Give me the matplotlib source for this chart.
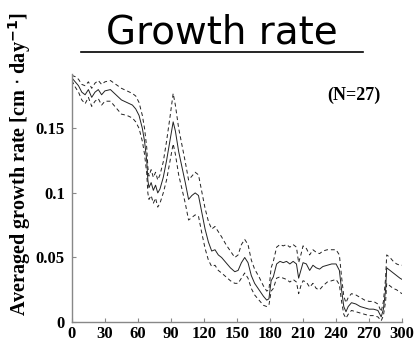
import matplotlib.pyplot as plt
from matplotlib.ticker import FuncFormatter

# Mean growth rate (solid) and the +/- bands (dashed)
dias = [0, 3, 6, 9, 12, 15, 18, 21, 24, 27, 30, 35, 40, 45, 50, 55, 58, 61, 64, 66,
        68, 69, 70, 72, 74, 76, 78, 80, 83, 86, 89, 92, 94, 97, 100, 103, 106, 109,
        112, 115, 118, 121, 124, 127, 130, 133, 136, 140, 144, 148, 151, 154, 157,
        160, 163, 166, 170, 174, 177, 179, 181, 183, 186, 189, 192, 195, 198, 201,
        204, 206, 208, 210, 213, 216, 219, 222, 225, 228, 232, 236, 240, 243, 245,
        247, 249, 251, 254, 258, 262, 266, 270, 274, 278, 281, 283, 285, 286, 289,
        292, 295, 298, 300]

media = [0.189, 0.186, 0.183, 0.178, 0.176, 0.180, 0.174, 0.178, 0.180, 0.176, 0.179,
         0.180, 0.176, 0.172, 0.170, 0.168, 0.165, 0.160, 0.150, 0.140, 0.125, 0.110,
         0.104, 0.108, 0.102, 0.106, 0.100, 0.103, 0.112, 0.125, 0.140, 0.155, 0.148,
         0.132, 0.120, 0.108, 0.095, 0.098, 0.100, 0.098, 0.085, 0.072, 0.062, 0.055,
         0.056, 0.052, 0.050, 0.046, 0.042, 0.039, 0.040, 0.046, 0.050, 0.046, 0.036,
         0.030, 0.025, 0.020, 0.017, 0.018, 0.032, 0.035, 0.045, 0.047, 0.046, 0.047,
         0.045, 0.047, 0.045, 0.034, 0.040, 0.046, 0.045, 0.040, 0.044, 0.042, 0.041,
         0.043, 0.044, 0.045, 0.045, 0.040, 0.025, 0.012, 0.008, 0.012, 0.015, 0.014,
         0.012, 0.011, 0.010, 0.010, 0.009, 0.004, 0.010, 0.025, 0.042, 0.040, 0.038,
         0.036, 0.034, 0.033]

superior = [0.191, 0.190, 0.188, 0.184, 0.183, 0.186, 0.181, 0.185, 0.187, 0.184, 0.186,
            0.187, 0.184, 0.181, 0.179, 0.177, 0.175, 0.170, 0.160, 0.150, 0.135, 0.120,
            0.113, 0.118, 0.112, 0.116, 0.110, 0.114, 0.124, 0.140, 0.158, 0.177, 0.168,
            0.150, 0.137, 0.124, 0.110, 0.113, 0.116, 0.114, 0.101, 0.088, 0.078, 0.072,
            0.074, 0.070, 0.066, 0.060, 0.055, 0.050, 0.052, 0.060, 0.064, 0.060, 0.048,
            0.041, 0.035, 0.028, 0.024, 0.025, 0.042, 0.047, 0.058, 0.060, 0.059, 0.060,
            0.058, 0.060, 0.058, 0.046, 0.052, 0.059, 0.057, 0.052, 0.056, 0.054, 0.053,
            0.055, 0.056, 0.056, 0.056, 0.052, 0.035, 0.020, 0.015, 0.019, 0.022, 0.021,
            0.019, 0.017, 0.016, 0.016, 0.014, 0.008, 0.016, 0.034, 0.052, 0.050, 0.047,
            0.045, 0.044, 0.044]

inferior = [0.187, 0.182, 0.178, 0.172, 0.169, 0.174, 0.167, 0.171, 0.173, 0.168, 0.171,
            0.171, 0.166, 0.161, 0.160, 0.158, 0.155, 0.150, 0.140, 0.130, 0.115, 0.100,
            0.095, 0.098, 0.092, 0.096, 0.089, 0.092, 0.100, 0.110, 0.124, 0.138, 0.130,
            0.114, 0.103, 0.092, 0.079, 0.081, 0.083, 0.082, 0.069, 0.057, 0.048, 0.043,
            0.044, 0.040, 0.038, 0.035, 0.032, 0.030, 0.030, 0.034, 0.038, 0.034, 0.026,
            0.021, 0.017, 0.013, 0.012, 0.013, 0.024, 0.026, 0.034, 0.035, 0.034, 0.033,
            0.031, 0.033, 0.031, 0.022, 0.028, 0.032, 0.031, 0.027, 0.030, 0.026, 0.025,
            0.028, 0.031, 0.032, 0.033, 0.029, 0.016, 0.006, 0.003, 0.006, 0.009, 0.008,
            0.007, 0.006, 0.005, 0.005, 0.004, 0.001, 0.005, 0.016, 0.030, 0.028, 0.026,
            0.025, 0.023, 0.022]

ticks_x = [0, 30, 60, 90, 120, 150, 180, 210, 240, 270, 300]
ticks_y = [0, 0.05, 0.1, 0.15]

fonte = {"family": "Liberation Serif", "weight": "bold"}

fig = plt.figure(figsize=(4.18, 3.43), dpi=100)
ax = fig.add_axes([0.172, 0.061, 0.79, 0.723])

ax.plot(dias, media, color="#222222", lw=0.7)
ax.plot(dias, superior, color="#222222", lw=0.7, ls=(0, (4, 3)))
ax.plot(dias, inferior, color="#222222", lw=0.7, ls=(0, (4, 3)))

ax.set_xlim(0, 300)
ax.set_ylim(0, 0.192)
ax.set_xticks(ticks_x)
ax.set_yticks(ticks_y)
ax.yaxis.set_major_formatter(FuncFormatter(lambda v, p: f"{v:g}"))

for lado in ["top", "right"]:
    ax.spines[lado].set_visible(False)
for lado in ["left", "bottom"]:
    ax.spines[lado].set_color("#888888")
    ax.spines[lado].set_linewidth(1.0)

ax.tick_params(direction="in", length=3, color="#888888")
ax.tick_params(axis="x", pad=3)
ax.tick_params(axis="y", pad=5)
for rotulo in ax.get_xticklabels() + ax.get_yticklabels():
    rotulo.set_fontfamily("Liberation Serif")
    rotulo.set_fontweight("bold")
    rotulo.set_fontsize(12)

fig.text(0.047, 0.52, r"Averaged growth rate [cm $\cdot$ day$^{\mathbf{-1}}$]",
         rotation=90, ha="center", va="center", fontsize=14.5, **fonte)
ax.text(0.935, 0.915, "(N=27)", transform=ax.transAxes, ha="right", va="center",
        fontsize=13, **fonte)

fig.text(0.53, 0.905, "Growth rate", ha="center", va="center",
         fontsize=28, family="DejaVu Sans")
fig.add_artist(plt.Line2D([0.193, 0.868], [0.848, 0.848], color="black", lw=1.2,
                          transform=fig.transFigure))

fig.savefig("out.png", dpi=100)
